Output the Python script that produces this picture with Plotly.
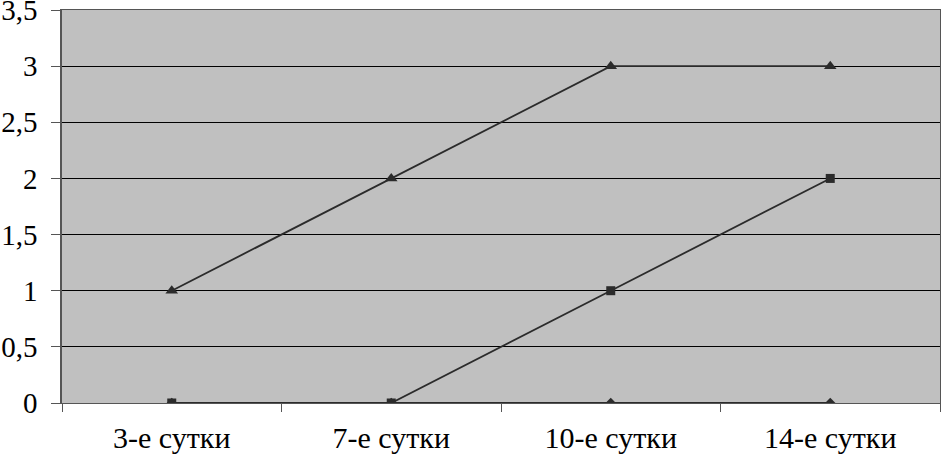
import plotly.graph_objects as go

categories = ["3-е сутки", "7-е сутки", "10-е сутки", "14-е сутки"]
series_diamond = [0, 0, 0, 0]
series_square = [0, 0, 1, 2]
series_triangle = [1, 2, 3, 3]
y_ticks = [0, 0.5, 1, 1.5, 2, 2.5, 3, 3.5]

fig = go.Figure()
line_col = "#2b2b2b"
fig.add_trace(go.Scatter(x=categories, y=series_diamond, mode="lines+markers",
                         line=dict(color=line_col, width=2),
                         marker=dict(symbol="diamond", size=8, color=line_col)))
fig.add_trace(go.Scatter(x=categories, y=series_square, mode="lines+markers",
                         line=dict(color=line_col, width=1.8),
                         marker=dict(symbol="square", size=9, color=line_col)))
fig.add_trace(go.Scatter(x=categories, y=series_triangle, mode="lines+markers",
                         line=dict(color=line_col, width=1.8),
                         marker=dict(symbol="triangle-up", size=11, color=line_col)))

fig.update_layout(
    width=941, height=456,
    margin=dict(l=62, r=1, t=10, b=53, autoexpand=False),
    paper_bgcolor="white", plot_bgcolor="#c0c0c0",
    showlegend=False,
    separators=", ",
    font=dict(family="Liberation Serif", size=29, color="black"),
)
fig.update_xaxes(type="category", range=[-0.5, 3.5], tickson="boundaries",
                 ticks="outside", ticklen=8, tickcolor="#555555",
                 showgrid=False, showline=True, linecolor="#555555", linewidth=1,
                 mirror=True, zeroline=False, ticklabelstandoff=8,
                 tickfont=dict(size=30), automargin=False)
fig.update_yaxes(range=[0, 3.5], tickvals=y_ticks, ticks="outside", ticklen=9,
                 tickcolor="#555555", showgrid=True, gridcolor="#000000", gridwidth=1,
                 showline=True, linecolor="#555555", linewidth=1.5, mirror=True,
                 zeroline=False, ticklabelstandoff=8, ticklabeloverflow="allow",
                 automargin=False)

fig.write_html("out.html", config={"displayModeBar": False},
               post_script="document.body.style.margin='0';document.body.style.overflow='hidden';")
